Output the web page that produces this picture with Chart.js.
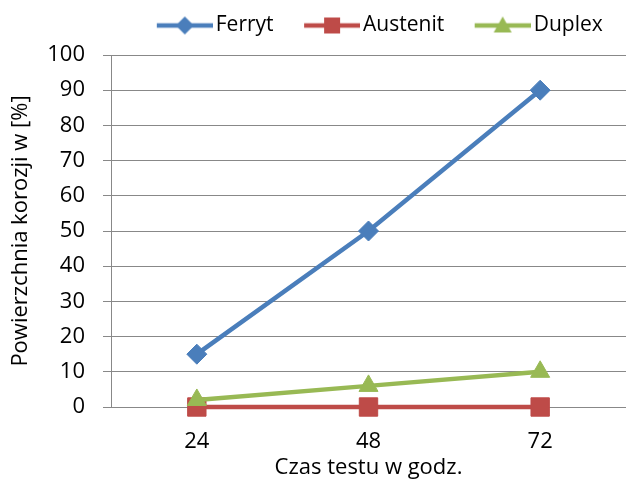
<!DOCTYPE html>
<html>
<head>
<meta charset="utf-8">
<script src="https://cdn.jsdelivr.net/npm/chart.js"></script>
<style>
    html, body { margin: 0; padding: 0; background: #fff; }
    #wrap { width: 626px; height: 482px; }
</style>
</head>
<body>
<div id="wrap"><canvas id="corrosionChart" width="626" height="482"></canvas></div>
<script>
var hours = ["24", "48", "72"];
var ferryt = [15, 50, 90];
var austenit = [0, 0, 0];
var duplex = [2, 6, 10];
var yTicks = [0, 10, 20, 30, 40, 50, 60, 70, 80, 90, 100];

var FONT = "'Open Sans', 'Liberation Sans', sans-serif";

// legend swatch: line with marker in the middle
function swatch(color, shape) {
    var c = document.createElement('canvas');
    c.width = 86;
    c.height = 24;
    var ctx = c.getContext('2d');
    ctx.strokeStyle = color;
    ctx.fillStyle = color;
    ctx.lineWidth = 4.5;
    ctx.beginPath();
    ctx.moveTo(30, 12);
    ctx.lineTo(86, 12);
    ctx.stroke();
    var cx = 58, cy = 12;
    ctx.beginPath();
    if (shape === 'diamond') {
        ctx.moveTo(cx, cy - 9);
        ctx.lineTo(cx + 9, cy);
        ctx.lineTo(cx, cy + 9);
        ctx.lineTo(cx - 9, cy);
    } else if (shape === 'square') {
        ctx.rect(cx - 8, cy - 8, 16, 16);
    } else {
        ctx.moveTo(cx, cy - 9);
        ctx.lineTo(cx + 9, cy + 7);
        ctx.lineTo(cx - 9, cy + 7);
    }
    ctx.closePath();
    ctx.fill();
    return c;
}

var colors = ['#4A7EBB', '#BE4B48', '#98B954'];
var swatches = [swatch(colors[0], 'diamond'), swatch(colors[1], 'square'), swatch(colors[2], 'triangle')];

var legendHeight = {
    id: 'legendHeight',
    afterInit: function(chart) {
        var fit = chart.legend.fit;
        chart.legend.fit = function() {
            var mw = this.maxWidth;
            this.maxWidth = 900;
            fit.call(this);
            this.maxWidth = mw;
            this.width = mw;
            this.height = 48;
        };
    }
};

var ctx = document.getElementById("corrosionChart");
var myChart = new Chart(ctx, {
    type: 'line',
    data: {
        labels: hours,
        datasets: [{
            label: 'Ferryt',
            data: ferryt,
            borderColor: colors[0],
            backgroundColor: colors[0],
            borderWidth: 4.5,
            pointStyle: 'rectRot',
            pointRadius: 10,
            pointBorderWidth: 1,
            order: 0,
            clip: false
        }, {
            label: 'Austenit',
            data: austenit,
            borderColor: colors[1],
            backgroundColor: colors[1],
            borderWidth: 4.5,
            pointStyle: 'rect',
            pointRadius: 13,
            pointBorderWidth: 1,
            order: 2,
            clip: false
        }, {
            label: 'Duplex',
            data: duplex,
            borderColor: colors[2],
            backgroundColor: colors[2],
            borderWidth: 4.5,
            pointStyle: 'triangle',
            pointRadius: 11,
            pointBorderWidth: 1,
            order: 1,
            clip: false
        }]
    },
    options: {
        responsive: false,
        animation: false,
        events: [],
        layout: {
            autoPadding: false,
            padding: { top: 7, left: 0, right: 0, bottom: 0 }
        },
        scales: {
            x: {
                offset: true,
                grid: { display: false, drawTicks: false, offset: true },
                border: { display: true, color: '#888', width: 1 },
                ticks: {
                    color: '#000',
                    padding: 22,
                    font: { family: FONT, size: 22 }
                },
                title: {
                    display: true,
                    text: 'Czas testu w godz.',
                    color: '#000',
                    padding: { top: 4, bottom: 1 },
                    font: { family: FONT, size: 22 }
                },
                afterFit: function(scale) {
                    scale.height = 75;
                    scale.paddingLeft = 0;
                    scale.paddingRight = 0;
                }
            },
            y: {
                min: 0,
                max: 100,
                afterBuildTicks: function(scale) {
                    scale.ticks = yTicks.map(function(v) { return { value: v }; });
                },
                grid: { color: '#888', lineWidth: 1, tickLength: 8 },
                border: { display: true, color: '#888', width: 1 },
                ticks: {
                    color: '#000',
                    padding: 18,
                    font: { family: FONT, size: 22 }
                },
                title: {
                    display: true,
                    text: 'Powierzchnia korozji w [%]',
                    color: '#000',
                    padding: { top: 8, bottom: 0 },
                    font: { family: FONT, size: 22 }
                },
                afterFit: function(scale) { scale.width = 111; }
            }
        },
        plugins: {
            tooltip: { enabled: false },
            legend: {
                display: true,
                position: 'top',
                fullSize: false,
                labels: {
                    usePointStyle: true,
                    pointStyleWidth: 71,
                    padding: 8,
                    color: '#000',
                    font: { family: FONT, size: 21 },
                    generateLabels: function(chart) {
                        return chart.data.datasets.map(function(ds, i) {
                            return {
                                text: ds.label,
                                pointStyle: swatches[i],
                                fillStyle: ds.backgroundColor,
                                strokeStyle: ds.borderColor,
                                lineWidth: 0,
                                fontColor: '#000',
                                hidden: false,
                                datasetIndex: i
                            };
                        });
                    }
                }
            }
        }
    },
    plugins: [legendHeight]
});
</script>
</body>
</html>
